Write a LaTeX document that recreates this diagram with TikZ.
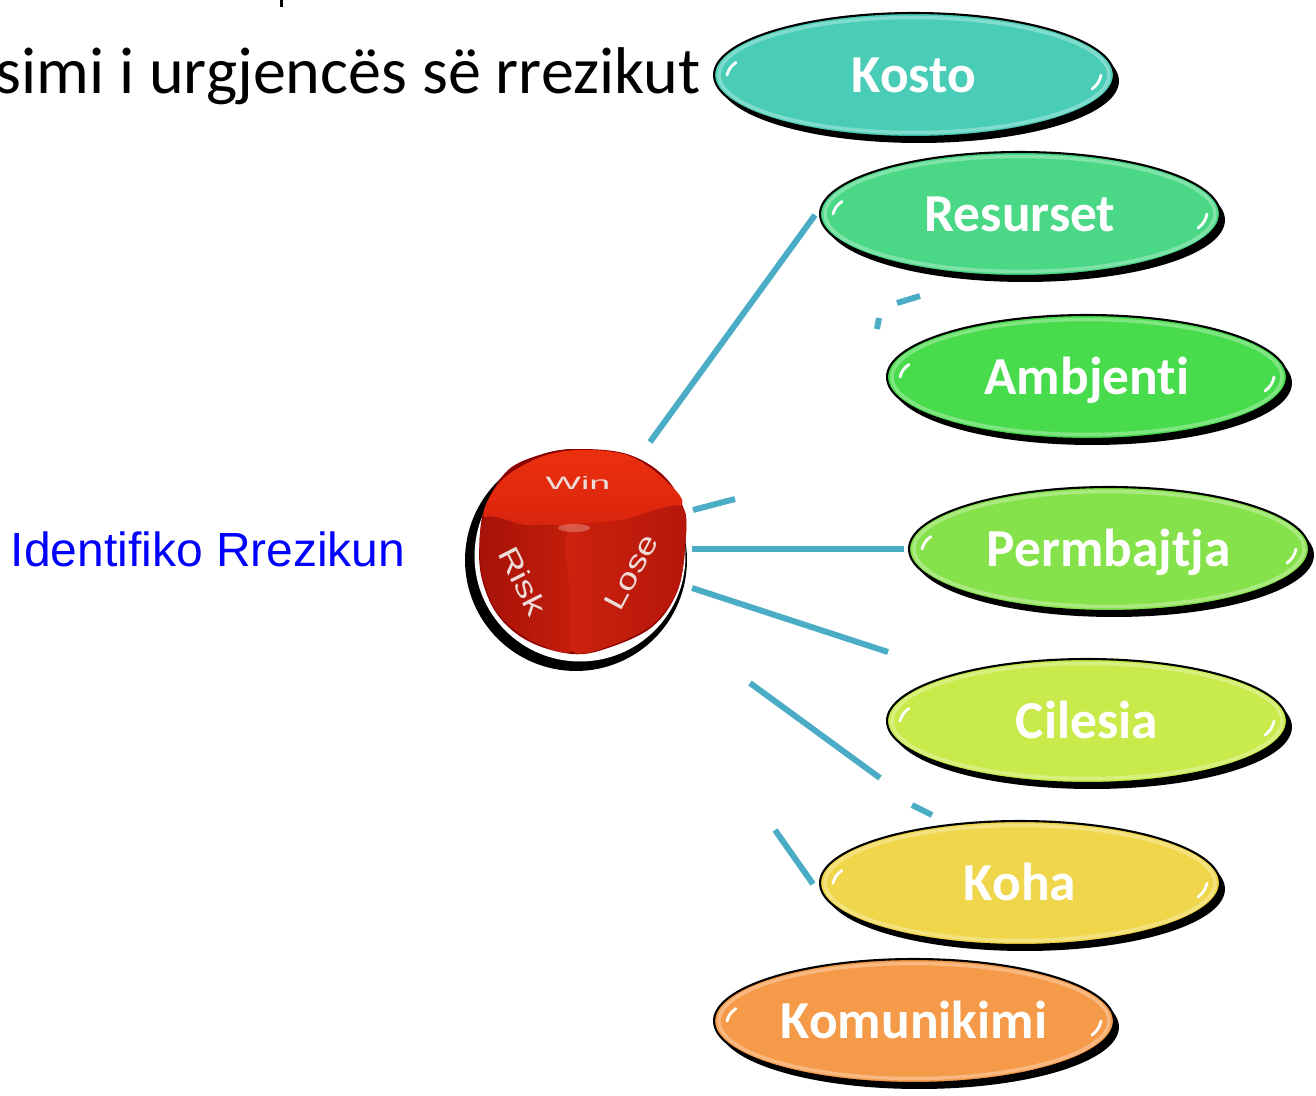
\documentclass[tikz,border=0pt]{standalone}
\usepackage{fontspec}
\setmainfont{Carlito}[Ligatures=CommonOff]
\newfontfamily\arialf{Liberation Sans}
\newfontfamily\dicef[FakeStretch=1.3]{Liberation Sans}
\usetikzlibrary{shapes.geometric}
\definecolor{connc}{HTML}{4BACC6}
\definecolor{cKosto}{HTML}{4ACDB6}
\definecolor{cRes}{HTML}{4AD886}
\definecolor{cAmb}{HTML}{48DC4C}
\definecolor{cPer}{HTML}{86E24A}
\definecolor{cCil}{HTML}{C8EA4A}
\definecolor{cKoha}{HTML}{F0D64A}
\definecolor{cKom}{HTML}{F59A48}
\definecolor{dicetext}{HTML}{EEDCD8}
\definecolor{identblue}{HTML}{0000FF}
\tikzset{
  pillshadow/.style={ellipse, minimum width=8cm, minimum height=2.48cm, inner sep=0pt, fill=black},
  pill/.style={ellipse, minimum width=8cm, minimum height=2.48cm, inner sep=0pt, draw=black, line width=1.2pt},
  pillglow/.style={ellipse, minimum width=7.8cm, minimum height=2.3cm, inner sep=0pt, draw=white, draw opacity=0.3, line width=2pt},
  pilltext/.style={font=\bfseries\fontsize{30.4}{31}\selectfont, text=white, anchor=base, inner sep=0pt},
  gloss/.style={white, line width=1.6pt, line cap=round},
  connline/.style={draw=connc, line width=3.4pt},
  facetext/.style={font=\dicef\fontsize{16.5}{17}\selectfont, text=dicetext, inner sep=0pt}
}
\newcommand\mypill[4]{%
  \node[pillshadow, xshift=0.1cm, yshift=-0.12cm] at (#2) {};
  \node[pill, fill=#3] (#1) at (#2) {};
  \node[pillglow] at (#2) {};
  \node[pilltext] (#1-t) at ([yshift=-0.35cm]#1.center) {#4};
  \draw[gloss] ([xshift=0.28cm]#1.west) to[bend left=20] ([xshift=0.46cm, yshift=0.25cm]#1.west);
  \draw[gloss] ([xshift=-0.28cm]#1.east) to[bend left=20] ([xshift=-0.46cm, yshift=-0.28cm]#1.east);
}
\begin{document}
\begin{tikzpicture}[x=0.02cm,y=-0.02cm]
\useasboundingbox (0,0) rectangle (1316,1096);
\clip (0,0) rectangle (1316,1096);

% title fragment
\fill[black] (280,0) rectangle (283,7);
\node[font=\fontsize{37.6}{39}\selectfont, anchor=base east, inner sep=0pt] (title) at (701,93) {simi i urgjencës së rrezikut};

% left label
\node[font=\arialf\fontsize{27.3}{28}\selectfont, text=identblue, anchor=base west, inner sep=0pt] (ident) at (10.5,566) {Identifiko Rrezikun};

% connector fragments
\coordinate (a1) at (650,442); \coordinate (b1) at (815,215);
\coordinate (a2) at (877,329); \coordinate (b2) at (879,318);
\coordinate (a3) at (897,303); \coordinate (b3) at (920,296);
\coordinate (a4) at (693,510); \coordinate (b4) at (735,499);
\coordinate (a5) at (692,549); \coordinate (b5) at (904,549);
\coordinate (a6) at (692,588); \coordinate (b6) at (888,652);
\coordinate (a7) at (750,683); \coordinate (b7) at (880,778);
\coordinate (a8) at (912,805); \coordinate (b8) at (932,815);
\coordinate (a9) at (775,830); \coordinate (b9) at (813,884);
\foreach \i in {1,...,9} {\draw[connline] (a\i) -- (b\i);}

% dice
\fill[black] (576,560) circle (2.22cm);
\node[circle, minimum size=4.22cm, inner sep=0pt, fill=white] (dice) at (580,556) {};
\fill[red!55!black] plot[smooth cycle, tension=0.6] coordinates {(486,505) (508,470) (543,454) (578,449) (627,454) (664,476) (684,510) (685,548) (677,592) (652,627) (608,648) (572,654) (528,641) (497,614) (481,575) (480,535)};
% top face
\shade[top color={rgb,255:red,236;green,48;blue,14}, bottom color={rgb,255:red,216;green,36;blue,14}] plot[smooth cycle, tension=0.55] coordinates {(484,518) (500,482) (538,458) (578,450) (627,455) (664,479) (681,506) (622,520) (568,530) (524,525)};
% left face
\shade[left color={rgb,255:red,165;green,18;blue,8}, right color={rgb,255:red,198;green,30;blue,12}] plot[smooth cycle, tension=0.5] coordinates {(484,518) (524,525) (568,530) (570,592) (572,651) (528,639) (497,612) (481,570)};
% right face
\shade[left color={rgb,255:red,206;green,34;blue,14}, right color={rgb,255:red,180;green,22;blue,10}] plot[smooth cycle, tension=0.5] coordinates {(568,530) (622,520) (681,506) (685,548) (677,592) (652,625) (610,646) (572,651) (570,592)};
\fill[white, opacity=0.25] (574,528) ellipse (0.32cm and 0.08cm);
\node[facetext, yscale=0.62] (win) at (578,483) {Win};
\node[facetext, rotate=-63] (risk) at (523,581) {Risk};
\node[facetext, rotate=62] (lose) at (631,572) {Lose};

% pills
\mypill{kosto}{914,75}{cKosto}{Kosto}
\mypill{res}{1020,214}{cRes}{Resurset}
\mypill{amb}{1087,377}{cAmb}{Ambjenti}
\mypill{per}{1109,549}{cPer}{Permbajtja}
\mypill{cil}{1087,721}{cCil}{Cilesia}
\mypill{koha}{1020,883}{cKoha}{Koha}
\mypill{kom}{914,1021}{cKom}{Komunikimi}
\end{tikzpicture}
\end{document}
